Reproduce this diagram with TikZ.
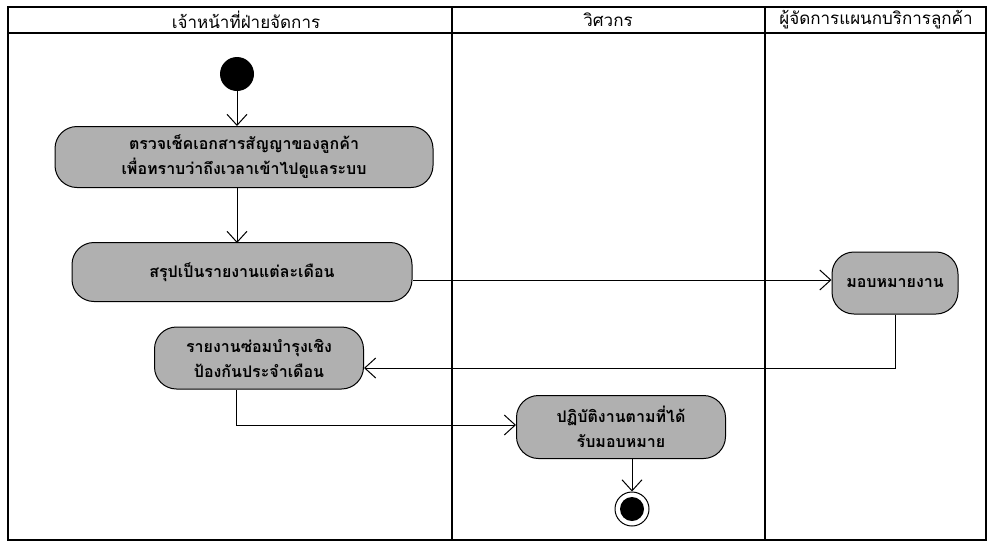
\documentclass[tikz,border=0pt]{standalone}
\usepackage{fontspec}
\newfontfamily\thaifont[Script=Thai]{Loma}
\usetikzlibrary{arrows.meta}
\begin{document}
\begin{tikzpicture}[x=1pt,y=-1pt,
  frame/.style={line width=2.6pt,line cap=rect},
  lanehead/.style={font=\thaifont\fontsize{17}{19}\selectfont,inner sep=0pt},
  activity/.style={draw=black,line width=1pt,fill=gray!62,rounded corners=22pt,
    align=center,font=\thaifont\bfseries\fontsize{16}{25}\selectfont,inner sep=0pt},
  flow/.style={draw=black,line width=0.9pt,-{Straight Barb[length=11pt,width=20pt,line width=1pt]}}]
\useasboundingbox (0,0) rectangle (991,547);
% swimlane frame
\draw[frame] (8,7) rectangle (986,540);
\draw[frame] (8,33) -- (986,33);
\draw[frame] (452,7) -- (452,540);
\draw[frame] (765,7) -- (765,540);
\node[lanehead] (h1) at (246,20) {เจ้าหน้าที่ฝ่ายจัดการ};
\node[lanehead] (h2) at (608,20) {วิศวกร};
\node[lanehead] (h3) at (876,20) {ผู้จัดการแผนกบริการลูกค้า};
% initial and final states
\node[circle,fill=black,minimum size=34pt,inner sep=0pt] (start) at (237,74) {};
\node[circle,draw=black,line width=1pt,fill=white,minimum size=34pt,inner sep=0pt] (stop) at (632,509) {};
\node[circle,fill=black,minimum size=24pt,inner sep=0pt] (stopdot) at (632,509) {};
% activities
\node[activity,minimum width=378pt,minimum height=61pt] (check) at (244,157)
  {ตรวจเช็คเอกสารสัญญาของลูกค้า\\เพื่อทราบว่าถึงเวลาเข้าไปดูแลระบบ};
\node[activity,minimum width=340pt,minimum height=59pt] (sum) at (242,272)
  {สรุปเป็นรายงานแต่ละเดือน};
\node[activity,minimum width=126pt,minimum height=62pt] (assign) at (895,283)
  {มอบหมายงาน};
\node[activity,minimum width=209pt,minimum height=62pt] (report) at (259,358)
  {รายงานซ่อมบำรุงเชิง\\ป้องกันประจำเดือน};
\node[activity,minimum width=209pt,minimum height=63pt] (work) at (621,427)
  {ปฏิบัติงานตามที่ได้\\รับมอบหมาย};
% control flows
\draw[flow] (start) -- (start |- check.north);
\draw[flow] (237,188) -- (237,243);
\draw[flow] (sum.east |- 0,280) -- (assign.west |- 0,280);
\draw[flow] (assign.south) -- (895,368) -- (report.east |- 0,368);
\draw[flow] (236,390) -- (236,425) -- (work.west |- 0,425);
\draw[flow] (632,458) -- (stop.north);
\end{tikzpicture}
\end{document}
